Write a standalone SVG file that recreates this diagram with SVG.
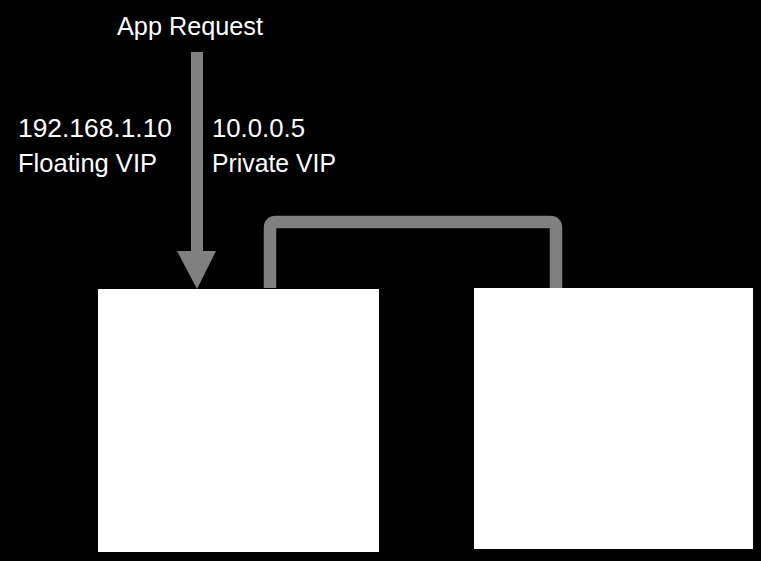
<svg xmlns="http://www.w3.org/2000/svg" width="761" height="561" viewBox="0 0 761 561">
<style>
.t{font-family:"Liberation Sans",Arial,sans-serif;font-size:25px;fill:#ffffff}
.box{fill:#ffffff}
.conn{stroke:#808080;fill:none}
</style>
<rect x="0" y="0" width="761" height="561" fill="#000000"/>
<g id="labels">
<text class="t" x="117" y="35" textLength="146" lengthAdjust="spacingAndGlyphs">App Request</text>
<text class="t" x="18" y="137" textLength="154" lengthAdjust="spacingAndGlyphs">192.168.1.10</text>
<text class="t" x="18" y="172" textLength="139" lengthAdjust="spacingAndGlyphs">Floating VIP</text>
<text class="t" x="212" y="137" textLength="93" lengthAdjust="spacingAndGlyphs">10.0.0.5</text>
<text class="t" x="212" y="172" textLength="124" lengthAdjust="spacingAndGlyphs">Private VIP</text>
</g>
<g id="node-left"><rect class="box" x="98" y="289" width="281" height="263"/></g>
<g id="node-right"><rect class="box" x="474" y="288" width="279" height="261"/></g>
<g id="connectors">
<path class="conn" stroke-width="12" d="M197,52 V252"/>
<polygon fill="#808080" points="177,251 216,251 197,289"/>
<path class="conn" stroke-width="12.5" stroke-linejoin="round" d="M270,288 V228 Q270,222 276,222 H550 Q556,222 556,228 V288"/>
</g>
</svg>
